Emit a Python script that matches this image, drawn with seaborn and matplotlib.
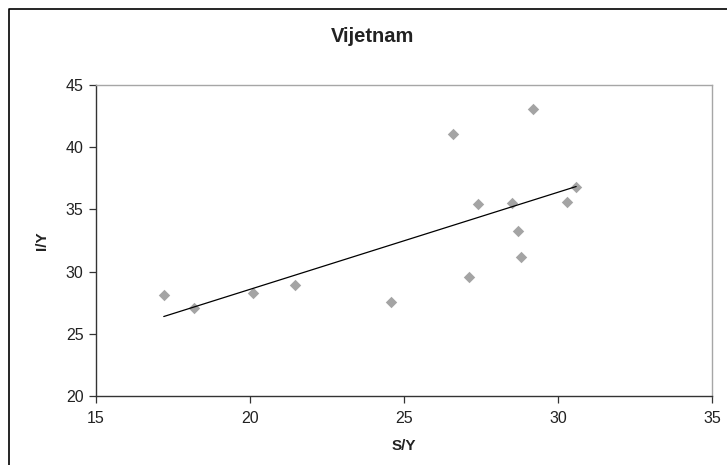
import numpy as np
import pandas as pd
import matplotlib
matplotlib.use("Agg")
import matplotlib.pyplot as plt
import seaborn as sns
from matplotlib.lines import Line2D

# Vijetnam: stopa štednje (S/Y) i stopa investicija (I/Y)
sy = [17.2, 18.19, 20.1, 21.47, 24.57, 26.59, 27.1, 27.39, 28.51, 28.71, 28.8, 29.18, 30.29, 30.59]
iy = [28.1, 27.1, 28.3, 28.96, 27.56, 41.06, 29.6, 35.4, 35.48, 33.25, 31.21, 43.1, 35.56, 36.77]
x_ticks = [15, 20, 25, 30, 35]
y_ticks = [20, 25, 30, 35, 40, 45]

df = pd.DataFrame({"S/Y": sy, "I/Y": iy})

sns.set_style("white")
plt.rcParams["font.family"] = ["Liberation Sans", "DejaVu Sans"]

W, H = 727, 465
fig = plt.figure(figsize=(W / 100, H / 100), dpi=100)
ax = fig.add_axes([96 / W, 1 - 396 / H, (712 - 96) / W, (396 - 85) / H])

sns.regplot(data=df, x="S/Y", y="I/Y", ax=ax, ci=None, truncate=True,
            marker="D",
            scatter_kws={"color": "#8e8e8e", "s": 34, "linewidths": 0, "zorder": 2},
            line_kws={"color": "black", "linewidth": 0.9, "zorder": 3})

ax.set_xlim(15, 35)
ax.set_ylim(20, 45)
ax.set_xticks(x_ticks)
ax.set_yticks(y_ticks)
ax.tick_params(axis="both", direction="out", length=5, width=0.9, color="#333333",
               labelsize=11.5, labelcolor="#222222", left=True, bottom=True)
ax.tick_params(axis="x", pad=6)
ax.tick_params(axis="y", pad=4)
ax.set_xlabel("S/Y", fontsize=11, fontweight="bold", color="#222222", labelpad=9)
ax.set_ylabel("I/Y", fontsize=11, fontweight="bold", color="#222222", labelpad=12)

for side in ["left", "bottom"]:
    ax.spines[side].set_color("#333333")
    ax.spines[side].set_linewidth(1.0)
for side in ["top", "right"]:
    ax.spines[side].set_visible(True)
    ax.spines[side].set_color("#a6a6a6")
    ax.spines[side].set_linewidth(1.0)

fig.text(373 / W, 1 - 36 / H, "Vijetnam", ha="center", va="center",
         fontsize=14.5, fontweight="bold", color="#222222")

# okvir grafikona
fig.add_artist(Line2D([9 / W, 9 / W, 1.0], [0.0, 1 - 9 / H, 1 - 9 / H],
                      transform=fig.transFigure, color="black", linewidth=1.2))

fig.savefig("out.png", dpi=100)
